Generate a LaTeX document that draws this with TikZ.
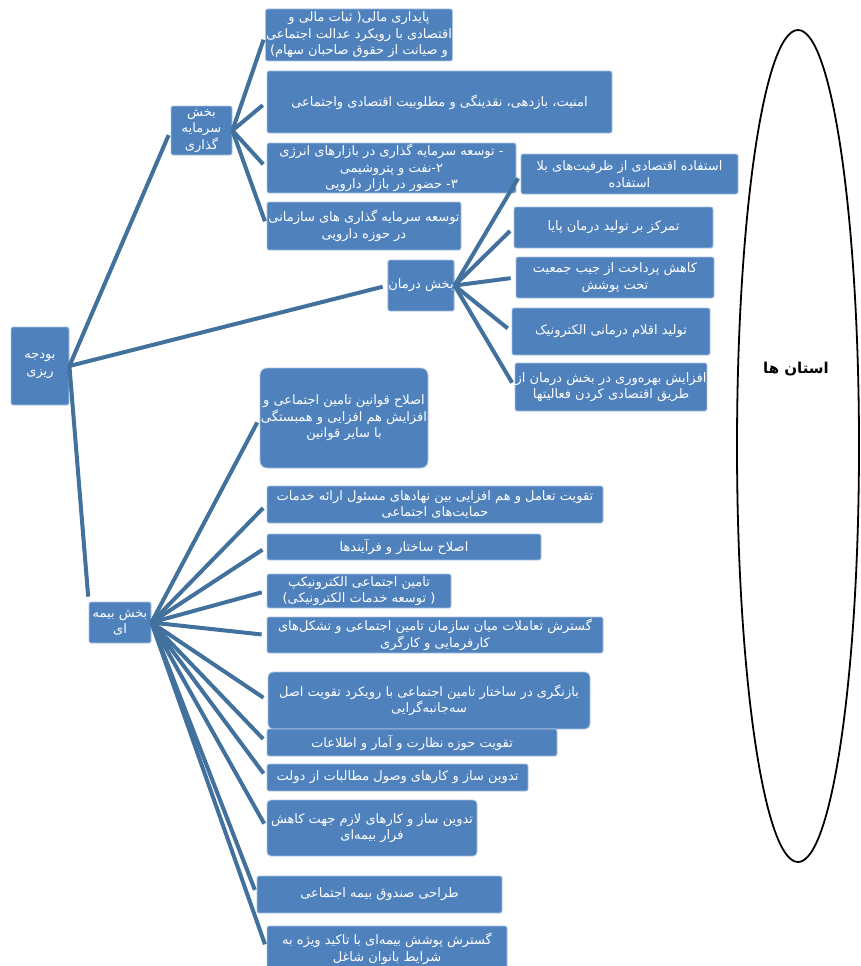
\documentclass[tikz,border=0pt]{standalone}
\usepackage{fontspec}
\usepackage{tikz}
\usetikzlibrary{arrows.meta,positioning,shapes.geometric}
\TeXXeTstate=1
\newfontfamily\arabicfont[Script=Arabic]{DejaVu Sans}
\definecolor{boxblue}{RGB}{79,129,189}
\definecolor{linkblue}{RGB}{65,113,156}
\definecolor{rimblue}{RGB}{170,196,228}
\newcommand{\fa}[1]{{\arabicfont\beginR #1\endR}}

\begin{document}
\begin{tikzpicture}[x=1pt, y=-1pt,
  every node/.style={font=\arabicfont\fontsize{13}{16.5}\selectfont},
  leaf/.style={fill=boxblue, draw=rimblue, line width=0.8pt, rounded corners=2pt, text=white, align=center, inner sep=0.5pt},
  link/.style={draw=linkblue, line width=4pt, shorten >=5pt}]
  \useasboundingbox (0,0) rectangle (860,966);
  \node[leaf, minimum width=58pt, minimum height=78pt] (root) at (40,366) {\fa{بودجه}\\\fa{ریزی}};
  \node[leaf, minimum width=61pt, minimum height=49pt] (inv) at (201.5,130.5) {\fa{بخش}\\\fa{سرمایه}\\\fa{گذاری}};
  \node[leaf, minimum width=66pt, minimum height=51pt] (trt) at (421,285.5) {\fa{بخش درمان}};
  \node[leaf, minimum width=62pt, minimum height=41pt] (ins) at (120,622.5) {\fa{بخش بیمه}\\\fa{ای}};
  \node[leaf, minimum width=184pt, minimum height=52pt] (inv1) at (359,35) {\fa{پایداری مالی( ثبات مالی و}\\\fa{اقتصادی با رویکرد عدالت اجتماعی}\\\fa{و صیانت از حقوق صاحبان سهام)}};
  \node[leaf, minimum width=345pt, minimum height=62pt] (inv2) at (439.5,102) {\fa{امنیت، بازدهی، نقدینگی و مطلوبیت اقتصادی واجتماعی}};
  \node[leaf, minimum width=249pt, minimum height=50pt] (inv3) at (391.5,168) {\fa{- توسعه سرمایه گذاری در بازارهای انرژی}\\\fa{۲-نفت و پتروشیمی}\\\fa{۳- حضور در بازار دارویی}};
  \node[leaf, minimum width=194pt, minimum height=48pt] (inv4) at (364,226) {\fa{توسعه سرمایه گذاری های سازمانی}\\\fa{در حوزه دارویی}};
  \node[leaf, minimum width=217pt, minimum height=40pt] (trt1) at (629.5,174) {\fa{استفاده اقتصادی از ظرفیت‌های بلا}\\\fa{استفاده}};
  \node[leaf, minimum width=199pt, minimum height=41pt] (trt2) at (613.5,227.5) {\fa{تمرکز بر تولید درمان پایا}};
  \node[leaf, minimum width=198pt, minimum height=41pt] (trt3) at (615,277.5) {\fa{کاهش پرداخت از جیب جمعیت}\\\fa{تحت پوشش}};
  \node[leaf, minimum width=198pt, minimum height=47pt] (trt4) at (611,331.5) {\fa{تولید اقلام  درمانی الکترونیک}};
  \node[leaf, minimum width=190pt, minimum height=48pt] (trt5) at (611,387) {\fa{افزایش بهره‌وری در بخش درمان از}\\\fa{طریق اقتصادی کردن فعالیتها}};
  \node[leaf, rounded corners=7pt, minimum width=168pt, minimum height=100pt] (ins1) at (344,418) {\fa{اصلاح قوانین تامین اجتماعی و}\\\fa{افزایش هم افزایی و همبستگی}\\\fa{با سایر قوانین}};
  \node[leaf, minimum width=336pt, minimum height=37pt] (ins2) at (435,504.5) {\fa{تقویت تعامل و هم افزایی بین نهادهای مسئول ارائه خدمات}\\\fa{حمایت‌های اجتماعی}};
  \node[leaf, minimum width=274pt, minimum height=26pt] (ins3) at (404,547) {\fa{اصلاح ساختار و فرآیندها}};
  \node[leaf, minimum width=184pt, minimum height=34pt] (ins4) at (359,591) {\fa{تامین اجتماعی الکترونیکپ}\\\fa{( توسعه خدمات الکترونیکی)}};
  \node[leaf, minimum width=336pt, minimum height=36pt] (ins5) at (435,635) {\fa{گسترش تعاملات میان سازمان تامین اجتماعی و تشکل‌های}\\\fa{کارفرمایی و کارگری}};
  \node[leaf, rounded corners=5pt, minimum width=322pt, minimum height=57pt] (ins6) at (429,700.5) {\fa{بازنگری در ساختار تامین اجتماعی با رویکرد تقویت اصل}\\\fa{سه‌جانبه‌گرایی}};
  \node[leaf, minimum width=290pt, minimum height=27pt] (ins7) at (412,742.5) {\fa{تقویت حوزه نظارت و آمار و اطلاعات}};
  \node[leaf, minimum width=261pt, minimum height=27pt] (ins8) at (397.5,777.5) {\fa{تدوین ساز و کارهای وصول مطالبات از دولت}};
  \node[leaf, rounded corners=4pt, minimum width=210pt, minimum height=56pt] (ins9) at (372,828) {\fa{تدوین ساز و کارهای لازم جهت کاهش}\\\fa{فرار بیمه‌ای}};
  \node[leaf, minimum width=245pt, minimum height=37pt] (ins10) at (379.5,894.5) {\fa{طراحی صندوق بیمه اجتماعی}};
  \node[leaf, minimum width=240pt, minimum height=46pt] (ins11) at (387,949) {\fa{گسترش پوشش بیمه‌ای با تاکید ویژه به}\\\fa{شرایط بانوان شاغل}};
  \node[draw, line width=1.8pt, ellipse, minimum width=122pt, minimum height=832pt] (prov) at (798,446) {};
  \node[font=\arabicfont\bfseries\fontsize{15}{18}\selectfont] (provname) at (796,369) {\fa{استان ها}};
  \draw[link] (root.east) -- (inv.west);
  \draw[link] (root.east) -- (trt.west);
  \draw[link] (root.east) -- (ins.north west);
  \foreach \k in {1,...,4} \draw[link] (inv.east) -- (inv\k.west);
  \foreach \k in {1,...,5} \draw[link] (trt.east) -- (trt\k.west);
  \foreach \k in {1,...,11} \draw[link] (ins.east) -- (ins\k.west);
\end{tikzpicture}
\end{document}
